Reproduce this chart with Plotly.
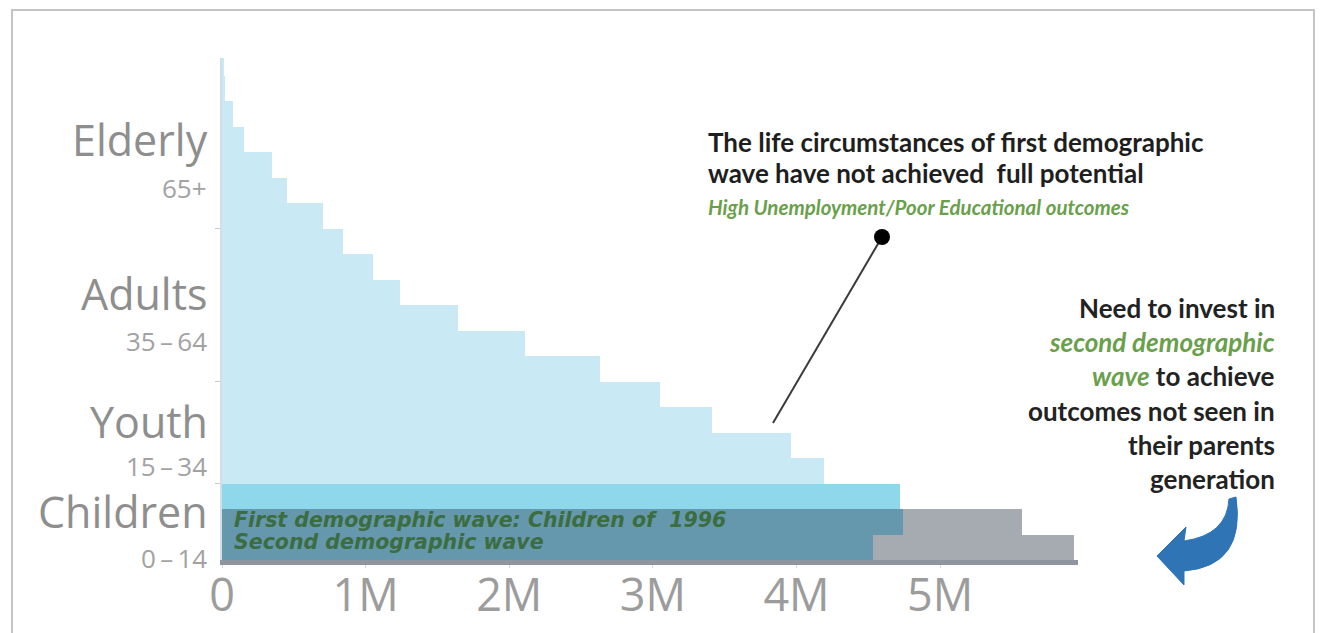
import plotly.graph_objects as go

# Age bands, youngest first (5-year bands)
age_bands = ["0-4", "5-9", "10-14", "15-19", "20-24", "25-29", "30-34",
             "35-39", "40-44", "45-49", "50-54", "55-59", "60-64",
             "65-69", "70-74", "75-79", "80-84", "85-89", "90-94", "95+"]

# Population by age band, 1996 (millions)
pop_1996 = [4.53, 4.74, 4.72, 4.19, 3.96, 3.41, 3.05,
            2.63, 2.11, 1.64, 1.24, 1.05, 0.84,
            0.70, 0.45, 0.35, 0.15, 0.08, 0.02, 0.01]

# Children of the second demographic wave (millions)
second_wave = [5.93, 5.57, None, None, None, None, None,
               None, None, None, None, None, None,
               None, None, None, None, None, None, None]

# Age groups: name, age range label, first and last band index
group_names = ["Elderly", "Adults", "Youth", "Children"]
group_ranges = ["65+", "35\u2009\u2013\u200964", "15\u2009\u2013\u200934", "0\u2009\u2013\u200914"]
group_first = [13, 7, 3, 0]
group_last = [19, 12, 6, 2]

x_tick_values = [0, 1, 2, 3, 4, 5]
x_tick_labels = ["0", "1M", "2M", "3M", "4M", "5M"]

LIGHT_BLUE = "#c9e9f4"
CHILD_BLUE = "#8fd7ea"
GREY = "#a6aab1"
OVERLAP = "#6598ad"
GREEN = "#6a9f4c"

M = 1e6
y_idx = list(range(len(age_bands)))
x_1996 = [v * M for v in pop_1996]
x_second = [None if v is None else v * M for v in second_wave]
x_overlap = [None if b is None else min(a, b) for a, b in zip(x_1996, x_second)]
colors_1996 = [CHILD_BLUE if i <= group_last[3] else LIGHT_BLUE for i in y_idx]

fig = go.Figure()
fig.add_trace(go.Bar(x=x_1996, y=y_idx, orientation="h", width=1,
                     marker=dict(color=colors_1996, line=dict(width=0)),
                     name="1996", hoverinfo="x+y"))
fig.add_trace(go.Bar(x=x_second, y=y_idx, orientation="h", width=1,
                     marker=dict(color=GREY, line=dict(width=0)),
                     name="Second demographic wave"))
fig.add_trace(go.Bar(x=x_overlap, y=y_idx, orientation="h", width=1,
                     marker=dict(color=OVERLAP, line=dict(width=0)),
                     name="Overlap"))

# plot area in pixels
L, R, T, B = 222, 1078, 58, 560
W, H = 1325, 633


def px(x, y):
    """Pixel position on the page -> paper coordinates."""
    return (x - L) / (R - L), (B - y) / (B - T)


annotations = []
shapes = []

# Age group labels beside the axis
name_offsets = [0.0, 0.45, 0.45, 0.4]
range_offsets = [-1.9, -1.4, -1.3, -1.42]
for name, rng, a, b, dn, dr in zip(group_names, group_ranges, group_first,
                                   group_last, name_offsets, range_offsets):
    mid = (a + b) / 2
    annotations.append(dict(x=0, xref="paper", xanchor="right", xshift=-12,
                            y=mid + dn, yref="y", yanchor="middle",
                            text=name, showarrow=False,
                            font=dict(family="Open Sans", size=43, color="#8e8e8e")))
    annotations.append(dict(x=0, xref="paper", xanchor="right", xshift=-13,
                            y=mid + dr, yref="y", yanchor="middle",
                            text=rng, showarrow=False,
                            font=dict(family="Open Sans", size=26, color="#a2a2a2")))

# Labels on the children bars
wave_font = dict(family="DejaVu Sans", size=20.5, color="#3b6d40")
annotations.append(dict(x=0.07 * M, y=1.05, xref="x", yref="y", xanchor="left",
                        yanchor="middle", showarrow=False, font=wave_font,
                        text="<b><i>First demographic wave: Children of  1996</i></b>"))
annotations.append(dict(x=0.07 * M, y=0.22, xref="x", yref="y", xanchor="left",
                        yanchor="middle", showarrow=False, font=wave_font,
                        text="<b><i>Second demographic wave</i></b>"))

# Callout about the first wave
note_font = dict(family="Lato", size=26, color="#1e1e1e")
cx, cy = px(706, 142)
annotations.append(dict(x=cx, y=cy, xref="paper", yref="paper", xanchor="left",
                        yanchor="middle", showarrow=False, align="left",
                        text="<b>The life circumstances of first demographic</b>",
                        font=note_font))
cx, cy = px(706, 173)
annotations.append(dict(x=cx, y=cy, xref="paper", yref="paper", xanchor="left",
                        yanchor="middle", showarrow=False, align="left",
                        text="<b>wave have not achieved  full potential</b>",
                        font=note_font))
cx, cy = px(706, 207)
annotations.append(dict(x=cx, y=cy, xref="paper", yref="paper", xanchor="left",
                        yanchor="middle", showarrow=False, align="left",
                        text="<b><i>High Unemployment/Poor Educational outcomes</i></b>",
                        font=dict(family="Lato", size=20.5, color=GREEN)))

x0, y0 = px(773, 423)
x1, y1 = px(882, 237)
shapes.append(dict(type="line", xref="paper", yref="paper", x0=x0, y0=y0,
                   x1=x1, y1=y1, line=dict(color="#3a3a3a", width=2)))
shapes.append(dict(type="circle", xref="paper", yref="paper",
                   xsizemode="pixel", ysizemode="pixel", xanchor=x1, yanchor=y1,
                   x0=-8, x1=8, y0=-8, y1=8,
                   fillcolor="#000000", line=dict(color="#000000", width=0)))

# Call to action on the right
right_lines = [
    "<b>Need to invest in</b>",
    f"<span style='color:{GREEN}'><b><i>second demographic</i></b></span>",
    f"<span style='color:{GREEN}'><b><i>wave</i></b></span><b> to achieve</b>",
    "<b>outcomes not seen in</b>",
    "<b>their parents</b>",
    "<b>generation</b>",
]
for i, line in enumerate(right_lines):
    rx, ry = px(1277, 308 + i * 34.2)
    annotations.append(dict(x=rx, y=ry, xref="paper", yref="paper", xanchor="right",
                            yanchor="middle", showarrow=False, align="right",
                            text=line,
                            font=dict(family="Lato", size=26, color="#222222")))

# Curved blue arrow pointing back at the children bars
pts = {
    "tip": (1157, 556), "h1": (1186, 527), "j1": (1184, 541),
    "c1": (1227, 535), "a": (1229, 499), "b": (1236, 497),
    "c2": (1246, 566), "j2": (1184, 571), "h2": (1184, 585),
}
P = {k: px(*v) for k, v in pts.items()}


def fmt(p):
    return f"{p[0]:.5f},{p[1]:.5f}"


arrow_path = (f"M {fmt(P['tip'])} L {fmt(P['h1'])} L {fmt(P['j1'])} "
              f"Q {fmt(P['c1'])} {fmt(P['a'])} L {fmt(P['b'])} "
              f"Q {fmt(P['c2'])} {fmt(P['j2'])} L {fmt(P['h2'])} Z")
shapes.append(dict(type="path", xref="paper", yref="paper", path=arrow_path,
                   fillcolor="#2f74b5", line=dict(color="#2f74b5", width=1)))

# Slide frame
fx0, fy0 = px(12, 10)
fx1, fy1 = px(1314, 645)
shapes.append(dict(type="rect", xref="paper", yref="paper", x0=fx0, y0=fy0,
                   x1=fx1, y1=fy1, line=dict(color="#c4c4c4", width=2),
                   layer="below"))

fig.update_layout(
    width=W, height=H,
    margin=dict(l=L, r=W - R, t=T, b=H - B, autoexpand=False),
    paper_bgcolor="white", plot_bgcolor="white",
    barmode="overlay", bargap=0, showlegend=False,
    annotations=annotations, shapes=shapes,
    xaxis=dict(range=[0, 5.96 * M], tickvals=[v * M for v in x_tick_values],
               ticktext=x_tick_labels, showgrid=False, zeroline=False,
               showline=True, linecolor="#8e959e", linewidth=5,
               ticks="outside", ticklen=3, tickcolor="#d6d6d6",
               automargin=False, ticklabelstandoff=-11,
               tickfont=dict(family="Open Sans", size=45, color="#9c9c9c")),
    yaxis=dict(range=[-0.5, 19.19], showgrid=False, zeroline=False,
               showline=True, linecolor="#cfdfe3", linewidth=1.5,
               tickvals=[b + 0.5 for b in group_last[1:]],
               ticktext=["", "", ""], ticks="outside", ticklen=5,
               tickcolor="#c8c8c8", showticklabels=False, automargin=False),
)

fig.write_html("out.html")
